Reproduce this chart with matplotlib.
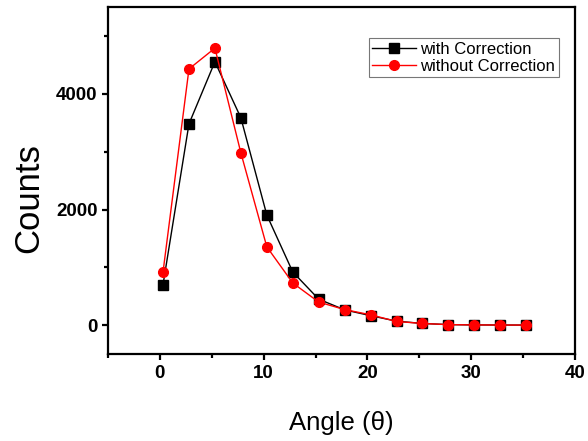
import matplotlib.pyplot as plt
from matplotlib.ticker import MultipleLocator

plt.rcParams['font.family'] = ['Liberation Sans', 'DejaVu Sans']

# Dữ liệu
angle = [0.3, 2.8, 5.3, 7.8, 10.3, 12.8, 15.3, 17.8, 20.3, 22.8, 25.3, 27.8, 30.3, 32.8, 35.3]
with_corr = [700, 3480, 4555, 3585, 1905, 920, 450, 265, 165, 70, 30, 10, 5, 3, 2]
without_corr = [920, 4430, 4790, 2980, 1355, 730, 400, 270, 180, 65, 30, 10, 5, 3, 2]

fig = plt.figure(figsize=(5.88, 4.41), dpi=100)
ax = fig.add_axes([0.1837, 0.197, 0.7943, 0.787])

ax.plot(angle, with_corr, color='black', marker='s', markersize=6.5, linewidth=1, label='with Correction')
ax.plot(angle, without_corr, color='red', marker='o', markersize=7, linewidth=1, label='without Correction')

ax.set_xlim(-5, 40)
ax.set_ylim(-500, 5500)
ax.xaxis.set_major_locator(MultipleLocator(10))
ax.xaxis.set_minor_locator(MultipleLocator(5))
ax.yaxis.set_major_locator(MultipleLocator(2000))
ax.yaxis.set_minor_locator(MultipleLocator(1000))

for s in ax.spines.values():
    s.set_linewidth(1.6)
ax.tick_params(which='major', direction='out', length=4, width=1.6, labelsize=13.5)
ax.tick_params(which='minor', direction='out', length=3, width=1.6)
for lb in ax.get_xticklabels() + ax.get_yticklabels():
    lb.set_fontweight('bold')

ax.set_xlabel('Angle (θ)', fontsize=18.5)
ax.xaxis.set_label_coords(0.5, -0.165)
ax.set_ylabel('Counts', fontsize=25)
ax.yaxis.set_label_coords(-0.135, 0.45)

leg = ax.legend(loc='upper right', bbox_to_anchor=(0.965, 0.91), fontsize=12, frameon=True, fancybox=False,
                borderpad=0.2, handlelength=2.6, handletextpad=0.3, labelspacing=0.15, borderaxespad=0)
leg.get_frame().set_edgecolor('#555555')
leg.get_frame().set_linewidth(0.8)

plt.savefig('out.png', dpi=100)
